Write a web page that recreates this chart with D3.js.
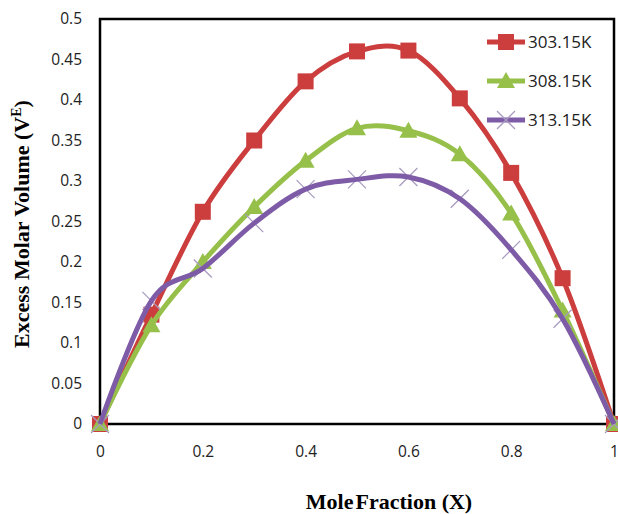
<!DOCTYPE html>
<html>
<head>
<meta charset="utf-8">
<script src="https://cdn.jsdelivr.net/npm/d3@7"></script>
<style>
  body { margin: 0; background: #fff; }
  svg { display: block; }
</style>
</head>
<body>
<script>
const width = 618;
const height = 514;

// data
const moleFraction = [0, 0.1, 0.2, 0.3, 0.4, 0.5, 0.6, 0.7, 0.8, 0.9, 1];
const ve303 = [0, 0.135, 0.262, 0.350, 0.423, 0.460, 0.461, 0.402, 0.310, 0.180, 0];
const ve308 = [0, 0.122, 0.200, 0.268, 0.325, 0.365, 0.362, 0.333, 0.260, 0.140, 0];
const ve313 = [0, 0.152, 0.192, 0.248, 0.290, 0.302, 0.305, 0.278, 0.215, 0.130, 0];
const seriesNames = ["303.15K", "308.15K", "313.15K"];
const xTicks = [0, 0.2, 0.4, 0.6, 0.8, 1];
const yTicks = [0, 0.05, 0.1, 0.15, 0.2, 0.25, 0.3, 0.35, 0.4, 0.45, 0.5];

const series = [
  {name: seriesNames[0], values: ve303, color: "#cc3e3e", marker: "square"},
  {name: seriesNames[1], values: ve308, color: "#96c04a", marker: "triangle"},
  {name: seriesNames[2], values: ve313, color: "#7d5ba6", marker: "cross"}
];

const margin = {left: 100, right: 4, top: 19, bottom: 90};

const x = d3.scaleLinear()
    .domain([0, 1])
    .range([margin.left, width - margin.right]);

const y = d3.scaleLinear()
    .domain([0, 0.5])
    .range([height - margin.bottom, margin.top]);

const svg = d3.select("body")
    .append("svg")
    .attr("width", width)
    .attr("height", height);

// plot frame
svg.append("rect")
    .attr("x", x(0))
    .attr("y", y(0.5))
    .attr("width", x(1) - x(0))
    .attr("height", y(0) - y(0.5))
    .attr("fill", "none")
    .attr("stroke", "#000")
    .attr("stroke-width", 2.5);

// axes (labels only, frame drawn above)
const xAxis = svg.append("g")
    .attr("transform", `translate(0,${y(0)})`)
    .call(d3.axisBottom(x).tickValues(xTicks).tickSize(0).tickPadding(22).tickFormat(d3.format("")));
const yAxis = svg.append("g")
    .attr("transform", `translate(${x(0)},0)`)
    .call(d3.axisLeft(y).tickValues(yTicks).tickSize(0).tickPadding(18).tickFormat(d3.format("")));

[xAxis, yAxis].forEach(a => {
  a.select(".domain").remove();
  a.selectAll("text")
    .attr("font-family", "'Open Sans', sans-serif")
    .attr("font-size", 15.5)
    .attr("fill", "#222");
});

const line = d3.line()
    .x((d, i) => x(moleFraction[i]))
    .y(d => y(d))
    .curve(d3.curveCatmullRom.alpha(0));

function drawMarker(g, type, color, cx, cy) {
  if (type === "square") {
    g.append("rect")
      .attr("x", cx - 8).attr("y", cy - 8)
      .attr("width", 16).attr("height", 16)
      .attr("fill", color);
  } else if (type === "triangle") {
    g.append("path")
      .attr("d", `M${cx},${cy - 9}L${cx + 9},${cy + 7}L${cx - 9},${cy + 7}Z`)
      .attr("fill", color);
  } else {
    g.append("path")
      .attr("d", `M${cx - 9},${cy - 9}L${cx + 9},${cy + 9}M${cx - 9},${cy + 9}L${cx + 9},${cy - 9}`)
      .attr("stroke", "#a99bc0")
      .attr("stroke-width", 1.3);
  }
}

series.forEach(s => {
  const g = svg.append("g");
  moleFraction.forEach((m, i) => drawMarker(g, s.marker, s.color, x(m), y(s.values[i])));
  g.append("path")
    .datum(s.values)
    .attr("d", line)
    .attr("fill", "none")
    .attr("stroke", s.color)
    .attr("stroke-width", 5)
    .attr("stroke-linejoin", "round");
});

// legend
const legend = svg.append("g");
series.forEach((s, i) => {
  const ly = 42 + i * 39;
  legend.append("line")
    .attr("x1", 487).attr("x2", 525)
    .attr("y1", ly).attr("y2", ly)
    .attr("stroke", s.color)
    .attr("stroke-width", 5);
  drawMarker(legend, s.marker, s.color, 506, ly);
  legend.append("text")
    .attr("x", 528).attr("y", ly)
    .attr("dy", "0.35em")
    .attr("font-family", "'Open Sans', sans-serif")
    .attr("font-size", 17)
    .attr("fill", "#222")
    .text(s.name);
});

// axis titles
const xt = svg.append("text")
    .attr("x", 389)
    .attr("y", 509)
    .attr("text-anchor", "middle")
    .attr("font-family", "'Liberation Serif', serif")
    .attr("font-weight", "bold")
    .attr("font-size", 22);
xt.append("tspan").text("Mole");
xt.append("tspan").attr("dx", 2).text("Fraction (X)");

const yt = svg.append("text")
    .attr("transform", "translate(29,224) rotate(-90)")
    .attr("text-anchor", "middle")
    .attr("font-family", "'Liberation Serif', serif")
    .attr("font-weight", "bold")
    .attr("font-size", 22);
yt.append("tspan").text("Excess Molar Volume (V");
yt.append("tspan").attr("font-size", 14).attr("dy", -8).text("E");
yt.append("tspan").attr("dy", 8).text(")");
</script>
</body>
</html>
